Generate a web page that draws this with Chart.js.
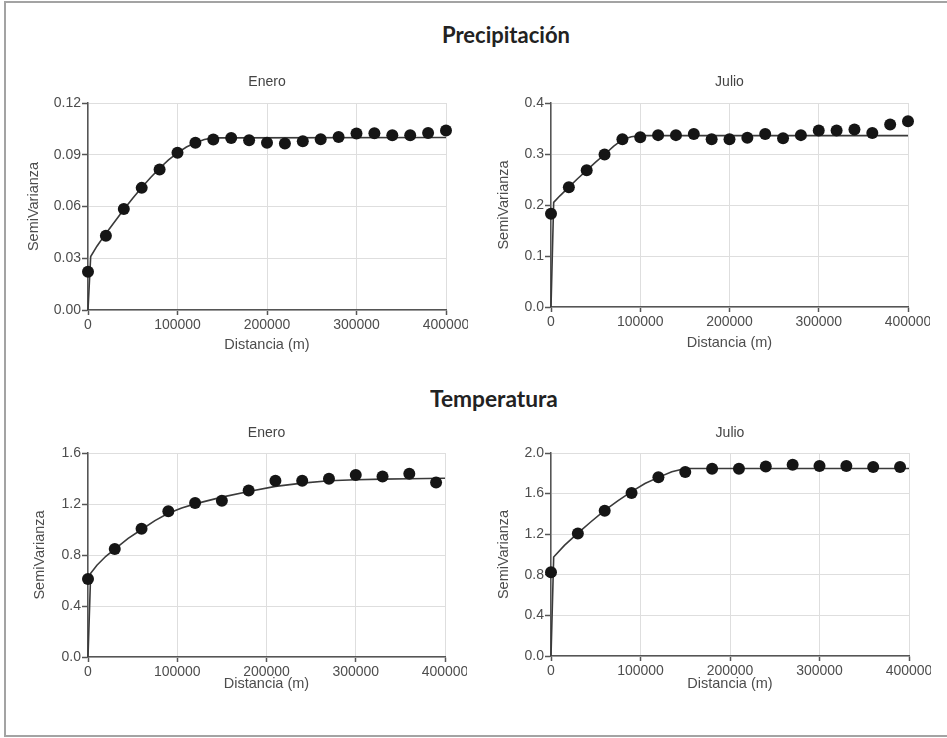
<!DOCTYPE html>
<html><head><meta charset="utf-8">
<script src="https://cdn.jsdelivr.net/npm/chart.js@4.4.1/dist/chart.umd.min.js"></script>
<style>
html,body{margin:0;padding:0;background:#fff;width:947px;height:738px;overflow:hidden;position:relative;}
#frame{position:absolute;left:4px;top:1px;width:943px;height:732px;border-left:2px solid #a3a3a3;border-top:2px solid #a3a3a3;border-bottom:2px solid #a3a3a3;box-sizing:content-box;}
.panel{position:absolute;}
.main{position:absolute;font-family:Lato, "Open Sans", sans-serif;font-weight:700;font-size:22px;line-height:22px;color:#222;white-space:nowrap;transform-origin:center;}
</style></head><body>
<div id="frame"></div>
<div class="main" id="t1">Precipitación</div>
<div class="main" id="t2">Temperatura</div>
<script>
// ---- data ----
const xTickValues = [0, 100000, 200000, 300000, 400000];

const precipEneroYTicks = [0, 0.03, 0.06, 0.09, 0.12];
const precipEneroDist = [0,20000,40000,60000,80000,100000,120000,140000,160000,180000,200000,220000,240000,260000,280000,300000,320000,340000,360000,380000,400000];
const precipEneroSemi = [0.0222,0.0430,0.0585,0.0708,0.0814,0.0911,0.0970,0.0988,0.0997,0.0984,0.0970,0.0965,0.0978,0.0990,0.1003,0.1023,0.1024,0.1013,0.1013,0.1026,0.1040];
const precipEneroModelDist = [0,3000,10000,20000,30000,40000,50000,60000,70000,80000,90000,100000,110000,120000,130000,140000,400000];
const precipEneroModelSemi = [0,0.031,0.037,0.0444,0.0513,0.0582,0.0648,0.0710,0.0768,0.0822,0.0870,0.0911,0.0945,0.0970,0.0988,0.0998,0.1000];

const precipJulioYTicks = [0, 0.1, 0.2, 0.3, 0.4];
const precipJulioDist = [0,20000,40000,60000,80000,100000,120000,140000,160000,180000,200000,220000,240000,260000,280000,300000,320000,340000,360000,380000,400000];
const precipJulioSemi = [0.183,0.235,0.268,0.299,0.329,0.333,0.337,0.337,0.339,0.329,0.329,0.332,0.339,0.331,0.337,0.346,0.346,0.348,0.341,0.358,0.364];
const precipJulioModelDist = [0,3000,10000,20000,30000,40000,50000,60000,70000,80000,90000,100000,400000];
const precipJulioModelSemi = [0,0.205,0.218,0.235,0.252,0.268,0.284,0.299,0.315,0.328,0.334,0.336,0.336];

const tempEneroYTicks = [0, 0.4, 0.8, 1.2, 1.6];
const tempEneroDist = [0,30000,60000,90000,120000,150000,180000,210000,240000,270000,300000,330000,360000,390000];
const tempEneroSemi = [0.611,0.847,1.005,1.144,1.207,1.225,1.306,1.382,1.382,1.398,1.427,1.416,1.437,1.369];
const tempEneroModelDist = [0,3000,10000,20000,30000,45000,60000,75000,90000,105000,120000,150000,180000,210000,240000,270000,300000,330000,360000,400000];
const tempEneroModelSemi = [0,0.656,0.72,0.79,0.847,0.93,1.0,1.07,1.128,1.168,1.201,1.254,1.298,1.338,1.364,1.382,1.39,1.395,1.398,1.402];

const tempJulioYTicks = [0, 0.4, 0.8, 1.2, 1.6, 2.0];
const tempJulioDist = [0,30000,60000,90000,120000,150000,180000,210000,240000,270000,300000,330000,360000,390000];
const tempJulioSemi = [0.826,1.207,1.431,1.605,1.760,1.813,1.845,1.845,1.868,1.885,1.872,1.872,1.862,1.862];
const tempJulioModelDist = [0,3000,15000,30000,45000,60000,75000,90000,105000,120000,135000,150000,400000];
const tempJulioModelSemi = [0,0.975,1.09,1.21,1.325,1.435,1.53,1.62,1.70,1.76,1.815,1.847,1.848];

// ---- drawing ----
const FONT = '"Liberation Sans", Arial, sans-serif';
function panel(cfg) {
  const lhY = 14.5 * 1.2, lhSub = 14 * 1.2;
  const cl = Math.round(cfg.yTitleX - lhY / 2 - 4);
  const yW = cfg.L - cl;
  const ct = Math.round(cfg.subY - 6 - lhSub / 2);
  const pt = cfg.subY - lhSub / 2 - ct;
  const pb = cfg.T - cfg.subY - lhSub / 2;
  const h = Math.round(cfg.xTitleY + lhY / 2 + 4 - ct);
  const xH = ct + h - cfg.B;
  const w = cfg.R + 22 - cl;
  const div = document.createElement('div');
  div.className = 'panel';
  div.style.left = cl + 'px';
  div.style.top = ct + 'px';
  const cv = document.createElement('canvas');
  cv.width = w; cv.height = h;
  cv.style.width = w + 'px'; cv.style.height = h + 'px';
  div.appendChild(cv);
  document.body.appendChild(div);
  const yt = cfg.yTicks;
  new Chart(cv, {
    type: 'scatter',
    data: {
      datasets: [
        { data: cfg.dist.map((x, i) => ({ x: x, y: cfg.semi[i] })), pointRadius: 6, pointHoverRadius: 6,
          backgroundColor: '#151515', borderColor: '#151515', borderWidth: 0, clip: false },
        { data: cfg.mDist.map((x, i) => ({ x: x, y: cfg.mSemi[i] })), showLine: true, pointRadius: 0,
          pointHoverRadius: 0, borderColor: '#3a3a3a', borderWidth: 1.6, tension: 0, fill: false, clip: false }
      ]
    },
    options: {
      responsive: false, animation: false, devicePixelRatio: 1, events: [],
      layout: { padding: { left: 0, top: 0, bottom: 0, right: 22 } },
      plugins: {
        legend: { display: false }, tooltip: { enabled: false },
        title: { display: true, text: cfg.sub, fullSize: false, color: '#444',
          font: { family: FONT, size: 14, weight: 'normal', lineHeight: 1.2 },
          padding: { top: pt, bottom: pb } }
      },
      scales: {
        x: {
          type: 'linear', min: 0, max: 400000,
          afterBuildTicks: s => { s.ticks = xTickValues.map(v => ({ value: v })); },
          ticks: { callback: v => String(v), color: '#4d4d4d', font: { family: FONT, size: 14 }, padding: 2, maxRotation: 0, autoSkip: false },
          grid: { color: '#dedede', lineWidth: 1, tickLength: 5, tickColor: '#555', tickWidth: 1.5 },
          border: { color: '#555', width: 1.5 },
          title: { display: true, text: 'Distancia (m)', color: '#4d4d4d', font: { family: FONT, size: 14.5, lineHeight: 1.2 }, padding: { top: 0, bottom: 4 } },
          afterFit: s => { s.height = xH; s.paddingLeft = 0; s.paddingRight = 0; }
        },
        y: {
          type: 'linear', min: 0, max: yt[yt.length - 1],
          afterBuildTicks: s => { s.ticks = yt.map(v => ({ value: v })); },
          ticks: { callback: v => Number(v).toFixed(cfg.dec), color: '#4d4d4d', font: { family: FONT, size: 14 }, padding: 1, autoSkip: false },
          grid: { color: '#dedede', lineWidth: 1, tickLength: 6, tickColor: '#555', tickWidth: 1.5 },
          border: { color: '#555', width: 1.5 },
          title: { display: true, text: 'SemiVarianza', color: '#4d4d4d', font: { family: FONT, size: 14.5, lineHeight: 1.2 }, padding: { top: 4, bottom: 0 } },
          afterFit: s => { s.width = yW; }
        }
      }
    }
  });
}

panel({ L: 88, R: 446, T: 103, B: 310, yTitleX: 34, subY: 82, xTitleY: 345, sub: 'Enero', dec: 2,
  yTicks: precipEneroYTicks, dist: precipEneroDist, semi: precipEneroSemi, mDist: precipEneroModelDist, mSemi: precipEneroModelSemi });
panel({ L: 551, R: 908, T: 103, B: 307, yTitleX: 504, subY: 82, xTitleY: 343, sub: 'Julio', dec: 1,
  yTicks: precipJulioYTicks, dist: precipJulioDist, semi: precipJulioSemi, mDist: precipJulioModelDist, mSemi: precipJulioModelSemi });
panel({ L: 88, R: 445, T: 453, B: 657, yTitleX: 40, subY: 433, xTitleY: 684, sub: 'Enero', dec: 1,
  yTicks: tempEneroYTicks, dist: tempEneroDist, semi: tempEneroSemi, mDist: tempEneroModelDist, mSemi: tempEneroModelSemi });
panel({ L: 551, R: 909, T: 453, B: 656, yTitleX: 504, subY: 433, xTitleY: 684, sub: 'Julio', dec: 1,
  yTicks: tempJulioYTicks, dist: tempJulioDist, semi: tempJulioSemi, mDist: tempJulioModelDist, mSemi: tempJulioModelSemi });

function placeTitle(id, cx, baseline, targetW) {
  const el = document.getElementById(id);
  const w = el.offsetWidth;
  el.style.left = (cx - w / 2) + 'px';
  el.style.top = (baseline - 19.5) + 'px';
  el.style.transform = 'scaleX(' + (targetW / w).toFixed(3) + ')';
}
placeTitle('t1', 506, 43.3, 128);
placeTitle('t2', 494, 407.3, 128);
</script>
</body></html>
